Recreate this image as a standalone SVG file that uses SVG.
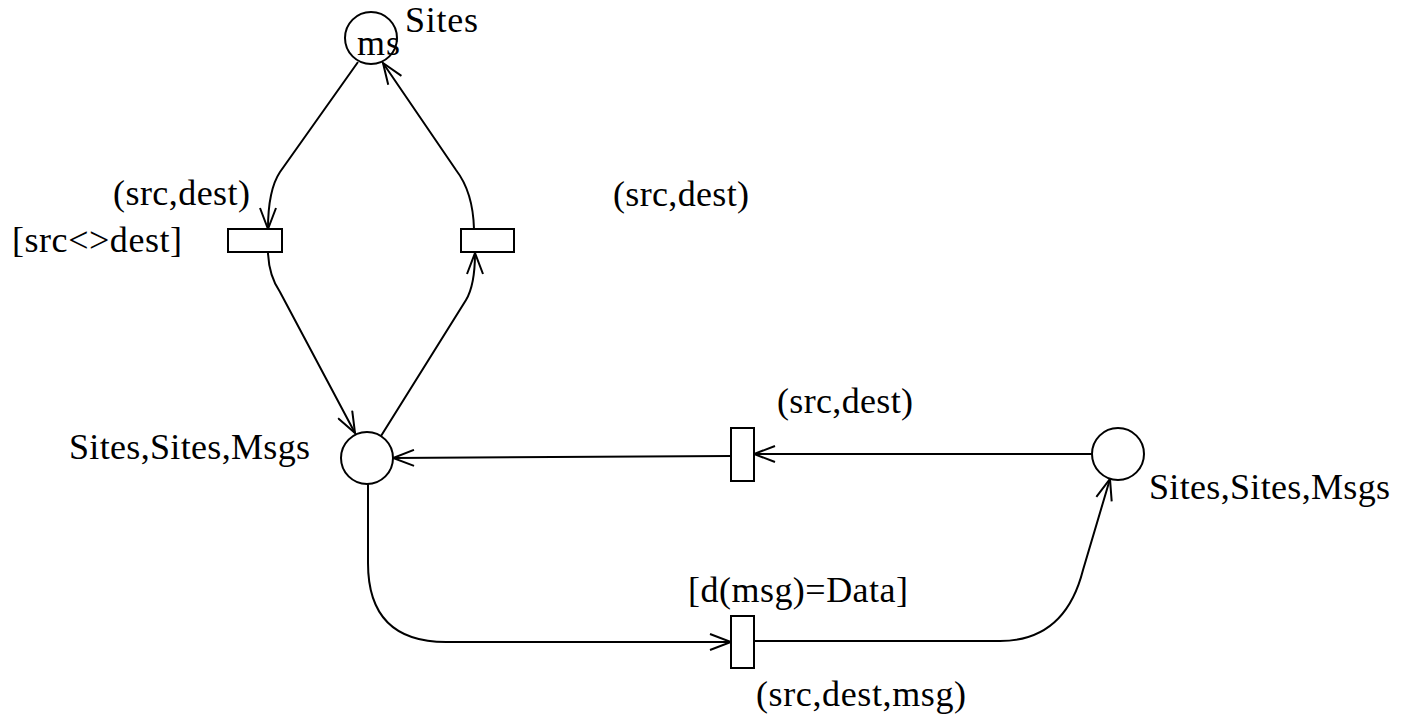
<svg xmlns="http://www.w3.org/2000/svg" width="1401" height="714" viewBox="0 0 1401 714">
<style>
.place{fill:#fff;stroke:#000;stroke-width:2}
.trans{fill:#fff;stroke:#000;stroke-width:2}
.arc{fill:none;stroke:#000;stroke-width:2;marker-end:url(#arr)}
text{font-family:"Liberation Serif","Times New Roman",serif;font-size:36px;fill:#000}
</style>
<defs>
<marker id="arr" viewBox="0 0 24 18" refX="22" refY="9" markerWidth="24" markerHeight="18" markerUnits="userSpaceOnUse" orient="auto">
<path d="M1,1 L22,9 L1,17" fill="none" stroke="#000" stroke-width="2"/>
</marker>
</defs>
<rect width="1401" height="714" fill="#fff"/>
<g id="connectors">
<path class="arc" d="M358,62 L280,172 Q268,190 268,229"/>
<path class="arc" d="M474,229 Q473,192 456,170 L383,63"/>
<path class="arc" d="M268,253 Q269,276 280,292 L355,433"/>
<path class="arc" d="M381,436 L466,300 Q475,285 475,253"/>
<path class="arc" d="M731,456 L393,458"/>
<path class="arc" d="M1092,454 L754,454"/>
<path class="arc" d="M368,484 L368,563 Q368,642 446,642 L731,642"/>
<path class="arc" d="M754,641 L1000,641 Q1065,641 1083,570 L1110,479"/>
</g>
<g id="place-sites">
<circle class="place" cx="371" cy="38" r="26"/>
<text x="405" y="32" textLength="73">Sites</text>
<text x="357" y="55" textLength="43">ms</text>
</g>
<g id="trans-send">
<rect class="trans" x="228" y="229" width="54" height="23"/>
<text x="113" y="205" textLength="137">(src,dest)</text>
<text x="12" y="252" textLength="170">[src&lt;&gt;dest]</text>
</g>
<g id="trans-receive">
<rect class="trans" x="461" y="229" width="53" height="23"/>
<text x="613" y="206" textLength="136">(src,dest)</text>
</g>
<g id="place-network">
<circle class="place" cx="367" cy="458" r="26"/>
<text x="69" y="459" textLength="241">Sites,Sites,Msgs</text>
</g>
<g id="trans-ack">
<rect class="trans" x="731" y="428" width="23" height="53"/>
<text x="777" y="413" textLength="136">(src,dest)</text>
</g>
<g id="trans-data">
<rect class="trans" x="731" y="616" width="23" height="52"/>
<text x="688" y="602" textLength="220">[d(msg)=Data]</text>
<text x="756" y="706" textLength="210">(src,dest,msg)</text>
</g>
<g id="place-acks">
<circle class="place" cx="1118" cy="454" r="26"/>
<text x="1149" y="499" textLength="241">Sites,Sites,Msgs</text>
</g>
</svg>
